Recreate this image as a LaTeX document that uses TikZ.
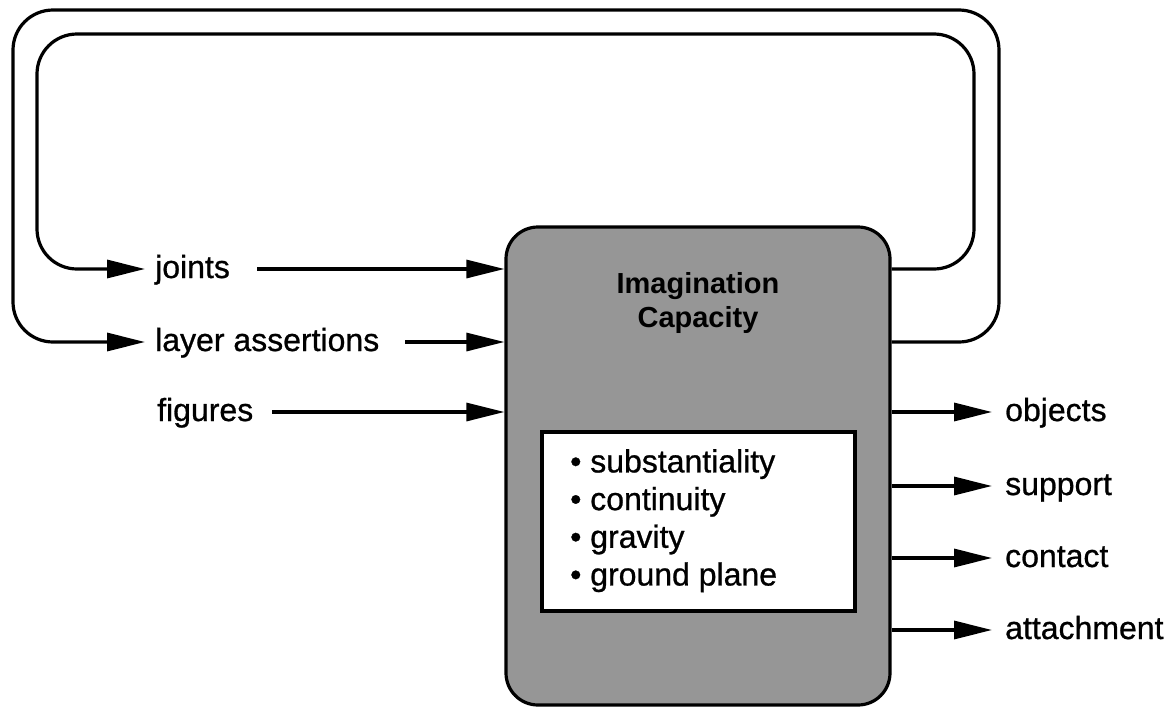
\documentclass[tikz,border=0pt]{standalone}
\usepackage{fontspec}
\setmainfont{Liberation Sans}
\newfontfamily\heavyfont{Liberation Sans}[FakeBold=0.8]
\usetikzlibrary{arrows.meta}
\definecolor{boxgray}{RGB}{150,150,150}
\begin{document}
\begin{tikzpicture}[x=1pt,y=-1pt,
  line/.style={line width=3.2pt},
  arr/.style={line, -{Triangle[length=38pt,width=18pt]}},
  loopline/.style={arr, rounded corners=40pt},
  lbl/.style={font=\heavyfont\fontsize{32}{37}\selectfont, inner sep=0pt, anchor=base west},
  capbox/.style={draw, line width=3.2pt, rounded corners=32pt, fill=boxgray,
    minimum width=384pt, minimum height=478pt, inner sep=0pt},
  propbox/.style={draw, line width=3.2pt, fill=white,
    minimum width=313pt, minimum height=179pt, inner sep=0pt}]
\useasboundingbox (0,0) rectangle (1168,707);

% main box
\node[capbox] (box) at (698,466) {};
\node[font=\bfseries\fontsize{29}{34}\selectfont, align=center, inner sep=0pt] (title) at (698,303) {Imagination\\Capacity};
\node[propbox] (props) at (698.5,521.5) {};
\node[font=\heavyfont\fontsize{32}{37.7}\selectfont, align=left, inner sep=0pt, anchor=north west] (plist) at (570,449)
  {\textbullet\ substantiality\\\textbullet\ continuity\\\textbullet\ gravity\\\textbullet\ ground plane};

% arrow rows
\coordinate (yj) at (0,269);
\coordinate (yl) at (0,342);

% input labels
\node[lbl] (joints) at (155,278) {joints};
\node[lbl] (layer) at (155,351) {layer assertions};
\node[lbl] (figures) at (157,421) {figures};

\coordinate (sj) at (257,269);
\coordinate (sl) at (405,342);
\coordinate (sf) at (272,412);
\draw[arr] (sj) -- (sj -| box.west);
\draw[arr] (sl) -- (sl -| box.west);
\draw[arr] (sf) -- (sf -| box.west);

% feedback loops
\coordinate (tj) at (145,269);
\coordinate (tl) at (145,342);
\draw[loopline] (box.east |- yj) -- (974,269) -- (974,34) -- (37,34) -- (37,269) -- (tj);
\draw[loopline] (box.east |- yl) -- (999,342) -- (999,10) -- (13,10) -- (13,342) -- (tl);

% outputs
\coordinate (to) at (992,412);
\coordinate (ts) at (992,486);
\coordinate (tc) at (992,558);
\coordinate (ta) at (992,630);
\draw[arr] (box.east |- to) -- (to);
\draw[arr] (box.east |- ts) -- (ts);
\draw[arr] (box.east |- tc) -- (tc);
\draw[arr] (box.east |- ta) -- (ta);
\node[lbl] (objects) at (1005,421) {objects};
\node[lbl] (support) at (1005,495) {support};
\node[lbl] (contact) at (1005,567) {contact};
\node[lbl] (attach) at (1005,639) {attachment};
\end{tikzpicture}
\end{document}
